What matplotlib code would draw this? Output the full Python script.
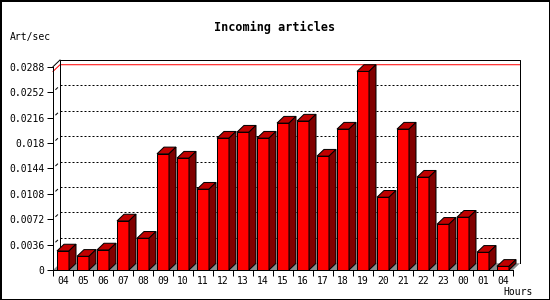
import matplotlib
matplotlib.use("Agg")
import matplotlib.pyplot as plt
from matplotlib.patches import Polygon
from matplotlib.lines import Line2D

hours = ["04", "05", "06", "07", "08", "09", "10", "11", "12", "13", "14", "15",
         "16", "17", "18", "19", "20", "21", "22", "23", "00", "01", "04"]
values = [0.00270, 0.00194, 0.00284, 0.00695, 0.00450, 0.01646, 0.01585, 0.01145,
          0.01868, 0.01953, 0.01868, 0.02081, 0.02110, 0.01613, 0.01996, 0.02813,
          0.01031, 0.01996, 0.01315, 0.00648, 0.00748, 0.00251, 0.00052]
yticks = [0, 0.0036, 0.0072, 0.0108, 0.0144, 0.018, 0.0216, 0.0252, 0.0288]
ytick_labels = ["0", "0.0036", "0.0072", "0.0108", "0.0144", "0.018", "0.0216", "0.0252", "0.0288"]
title = "Incoming articles"
ylabel = "Art/sec"
xlabel = "Hours"

W, H = 550, 300
fig = plt.figure(figsize=(W / 100, H / 100), dpi=100)
fig.patch.set_facecolor("white")
fig.patch.set_edgecolor("black")
fig.patch.set_linewidth(2.0)

L, B, AW, AH = 53, 30, 460, 203.3
ax = fig.add_axes([L / W, B / H, AW / W, AH / H])
n = len(values)
xmin, xmax = -0.5, n - 0.5
ymin, ymax = 0, yticks[-1]
ax.set_xlim(xmin, xmax)
ax.set_ylim(ymin, ymax)
ax.set_facecolor("none")
for s in ax.spines.values():
    s.set_visible(False)

# depth in data units (7 px)
D = 7
ddx = D * (xmax - xmin) / AW
ddy = 6.7 * (ymax - ymin) / AH
lw = 0.72
mono = "DejaVu Sans Mono"

def add_poly(pts, fc, ec="black", z=2, lw_=lw):
    ax.add_patch(Polygon(pts, closed=True, facecolor=fc, edgecolor=ec,
                         linewidth=lw_, clip_on=False, zorder=z, joinstyle="miter"))

# back wall
add_poly([(xmin + ddx, ddy), (xmax + ddx, ddy), (xmax + ddx, ymax + ddy), (xmin + ddx, ymax + ddy)],
         "white", ec="none", z=0.5)
# floor
add_poly([(xmin, 0), (xmax, 0), (xmax + ddx, ddy), (xmin + ddx, ddy)], "#8c8c8c", ec="none", z=0.8)

# grid lines (dotted on back wall, short mark on left wall)
for t in yticks[1:-1]:
    ax.add_line(Line2D([xmin + ddx, xmax + ddx], [t + ddy, t + ddy], color="black",
                       linewidth=lw, linestyle=(0, (2, 2)), clip_on=False, zorder=1))
    ax.add_line(Line2D([xmin + 0.4 * ddx, xmin + 0.65 * ddx], [t + 0.4 * ddy, t + 0.65 * ddy],
                       color="black", linewidth=lw, clip_on=False, zorder=1))

# max line (red)
vmax = max(values)
ax.add_line(Line2D([xmin, xmin + ddx, xmax + ddx], [vmax, vmax + ddy, vmax + ddy], color="red",
                   linewidth=lw, clip_on=False, zorder=1.2))

# back wall outline
ax.add_line(Line2D([xmin + ddx, xmin + ddx, xmax + ddx, xmax + ddx],
                   [ddy, ymax + ddy, ymax + ddy, ddy], color="black", linewidth=lw,
                   clip_on=False, zorder=1.3))
ax.add_line(Line2D([xmin, xmin + ddx], [ymax, ymax + ddy], color="black", linewidth=lw,
                   clip_on=False, zorder=1.3))

# bars
bw = 0.6
for i, v in enumerate(values):
    x0, x1 = i - bw / 2, i + bw / 2
    add_poly([(x0, 0), (x1, 0), (x1, v), (x0, v)], "#ff0000", z=3)
    add_poly([(x0, v), (x1, v), (x1 + ddx, v + ddy), (x0 + ddx, v + ddy)], "#c00000", z=3)
    add_poly([(x1, 0), (x1 + ddx, ddy), (x1 + ddx, v + ddy), (x1, v)], "#800000", z=3)

# front axes lines
ax.add_line(Line2D([xmin, xmin], [0, ymax], color="black", linewidth=lw, clip_on=False, zorder=4))
ax.add_line(Line2D([xmin, xmax], [0, 0], color="black", linewidth=lw, clip_on=False, zorder=4))

# ticks
ax.set_yticks(yticks)
ax.set_yticklabels(ytick_labels, fontfamily=mono, fontsize=7)
ax.tick_params(axis="y", direction="out", length=4, width=lw, pad=2, colors="black")
ax.set_xticks(range(n))
ax.set_xticklabels(hours, fontfamily=mono, fontsize=7)
ax.tick_params(axis="x", which="major", length=0, pad=4.5)
ax.set_xticks([i - 0.5 for i in range(n + 1)], minor=True)
ax.tick_params(axis="x", which="minor", direction="out", length=4, width=lw)

fig.text(275 / W, 1 - 27 / H, title, ha="center", va="center", fontfamily=mono,
         fontweight="bold", fontsize=8.5)
fig.text(10 / W, 1 - 37 / H, ylabel, ha="left", va="center", fontfamily=mono, fontsize=7)
fig.text(533 / W, 1 - 292 / H, xlabel, ha="right", va="center", fontfamily=mono, fontsize=7)

fig.savefig("out.png", dpi=100, facecolor=fig.get_facecolor(), edgecolor=fig.get_edgecolor())
